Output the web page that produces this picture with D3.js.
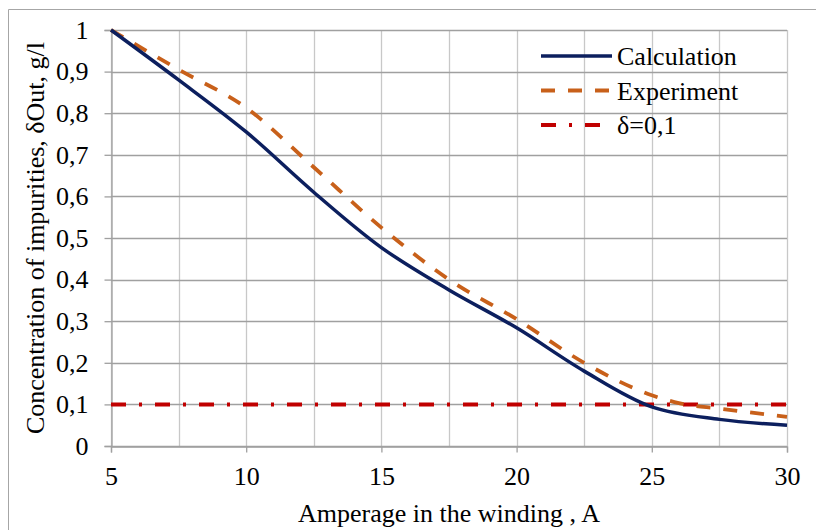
<!DOCTYPE html>
<html><head><meta charset="utf-8">
<script src="https://cdn.jsdelivr.net/npm/d3@7"></script>
<style>body{margin:0;background:#fff}svg{display:block}</style>
</head><body><svg id="c" width="816" height="530"></svg>
<script>
const amperage = [5, 7.5, 10, 12.5, 15, 17.5, 20, 22.5, 25, 27.5, 30];
const calculation = [1.0, 0.88, 0.755, 0.61, 0.477, 0.375, 0.284, 0.18, 0.094, 0.064, 0.05];
const experimentX = [5, 7.5, 10, 12.5, 15, 17.5, 20, 22.5, 25, 26, 27.5, 30];
const experiment = [1.0, 0.905, 0.813, 0.67, 0.525, 0.40, 0.305, 0.2, 0.122, 0.103, 0.09, 0.07];
const thresholdX = [5, 30];
const threshold = [0.1, 0.1];
const xTickLabels = [5, 10, 15, 20, 25, 30];
const yTickLabels = [0, 0.1, 0.2, 0.3, 0.4, 0.5, 0.6, 0.7, 0.8, 0.9, 1];
const seriesNames = ["Calculation", "Experiment", "δ=0,1"];

const FONT = "'Liberation Serif', Tinos, 'Times New Roman', 'DejaVu Serif', serif";
const svg = d3.select("#c").attr("font-family", FONT);
const L = 111, R = 787, T = 30, B = 446;
const x = d3.scaleLinear().domain([5, 30]).range([L, R]);
const y = d3.scaleLinear().domain([0, 1]).range([B, T]);
const fmt = d => String(d).replace(".", ",");

// outer border
svg.append("path").attr("d", `M8.5,530 V9.5 H816`).attr("fill", "none").attr("stroke", "#a6a6a6").attr("stroke-width", 1);

// gridlines
const xGrid = d3.range(5, 30.01, 2.5);
svg.append("g").selectAll("line").data(xGrid).join("line")
  .attr("x1", d => Math.round(x(d)) + 0.5).attr("x2", d => Math.round(x(d)) + 0.5)
  .attr("y1", T).attr("y2", B).attr("stroke", "#c8c8c8").attr("stroke-width", 1.3);
svg.append("g").selectAll("line").data(yTickLabels).join("line")
  .attr("x1", L).attr("x2", R)
  .attr("y1", d => Math.round(y(d)) + 0.5).attr("y2", d => Math.round(y(d)) + 0.5)
  .attr("stroke", "#a0a0a0").attr("stroke-width", 1.3);

// axes
const yAxis = d3.axisLeft(y).tickValues(yTickLabels).tickFormat(fmt).tickSize(7).tickPadding(16);
const gy = svg.append("g").attr("transform", `translate(${L + 0.5},0)`).call(yAxis);
gy.attr("font-family", FONT).attr("font-size", 26);
gy.select(".domain").attr("stroke", "#a0a0a0").attr("stroke-width", 1.3);
gy.selectAll(".tick line").attr("stroke", "#a0a0a0").attr("stroke-width", 1.3);
gy.selectAll("text").attr("fill", "#000");

const xAxis = d3.axisBottom(x).tickValues(xTickLabels).tickFormat(d => d).tickSize(6).tickPadding(14);
const gx = svg.append("g").attr("transform", `translate(0,${B + 0.5})`).call(xAxis);
gx.attr("font-family", FONT).attr("font-size", 26);
gx.select(".domain").attr("stroke", "#a0a0a0").attr("stroke-width", 1.3);
gx.selectAll(".tick line").attr("stroke", "#a0a0a0").attr("stroke-width", 1.3);
gx.selectAll("text").attr("fill", "#000");

// series
const colors = ["#0c1f5e", "#c8601a", "#c00000"];
svg.append("path").datum(d3.zip(thresholdX, threshold))
  .attr("d", d3.line().x(d => x(d[0])).y(d => y(d[1]))).attr("fill", "none")
  .attr("stroke", colors[2]).attr("stroke-width", 4).attr("stroke-dasharray", "15,13,3,13");
svg.append("path").datum(d3.zip(experimentX, experiment))
  .attr("d", d3.line().x(d => x(d[0])).y(d => y(d[1])).curve(d3.curveMonotoneX)).attr("fill", "none")
  .attr("stroke", colors[1]).attr("stroke-width", 3.8).attr("stroke-dasharray", "14,13");
svg.append("path").datum(d3.zip(amperage, calculation))
  .attr("d", d3.line().x(d => x(d[0])).y(d => y(d[1])).curve(d3.curveCatmullRom.alpha(0.5))).attr("fill", "none")
  .attr("stroke", colors[0]).attr("stroke-width", 3.5);

// legend
const dashes = [null, "14,13", "15,13,3,13"];
const lg = svg.append("g");
seriesNames.forEach((n, i) => {
  const yy = 56 + i * 34.5;
  lg.append("line").attr("x1", 541).attr("x2", 612).attr("y1", yy).attr("y2", yy)
    .attr("stroke", colors[i]).attr("stroke-width", i === 0 ? 3.5 : 4)
    .attr("stroke-dasharray", dashes[i]);
  lg.append("text").attr("x", 617).attr("y", yy + 9).attr("font-size", 26).text(n);
});

// titles
svg.append("text").attr("x", 449).attr("y", 522).attr("text-anchor", "middle").attr("font-size", 26)
  .text("Amperage in the winding , A");
svg.append("text").attr("transform", `translate(44,${(T + B) / 2}) rotate(-90)`).attr("text-anchor", "middle")
  .attr("font-size", 26).text("Concentration of impurities, δOut, g/l");
</script></body></html>
